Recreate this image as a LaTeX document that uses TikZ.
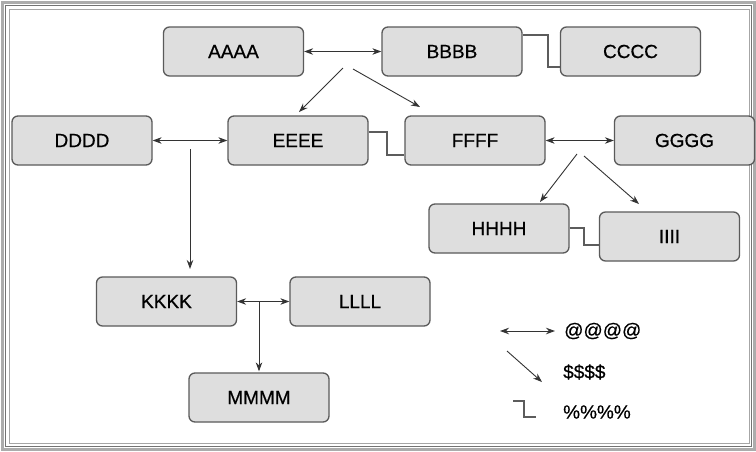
\documentclass[tikz,border=0pt]{standalone}
\usepackage{fontspec}
\setmainfont{Liberation Sans}
\newfontfamily\boxfont{Liberation Sans}[FakeBold=0.6]
\usetikzlibrary{arrows.meta}
\definecolor{boxfill}{HTML}{DEDEDE}
\definecolor{boxline}{HTML}{5A5A5A}
\definecolor{conn}{HTML}{333333}
\tikzset{
  box/.style={draw=boxline, fill=boxfill, line width=1.3pt, rounded corners=6pt,
    minimum width=140pt, minimum height=49pt, inner sep=0pt,
    font=\boxfont\fontsize{19}{21}\selectfont, text=black},
  conline/.style={draw=conn, line width=0.9pt},
  tip/.style={conline, -{Stealth[length=9pt,width=6.5pt]}},
  dtip/.style={conline, {Stealth[length=9pt,width=6.5pt]}-{Stealth[length=9pt,width=6.5pt]}},
  steplink/.style={draw=conn!80, line width=1.1pt},
  legtext/.style={anchor=west, inner sep=0pt, font=\boxfont\fontsize{19}{21}\selectfont, text=black}
}
\begin{document}
\begin{tikzpicture}[x=1pt,y=-1pt]
\useasboundingbox (0,0) rectangle (756,451);
\fill[white] (0,0) rectangle (756,451);
% frame
\draw[gray!65, line width=3pt] (2,2) rectangle (754.5,449);
\draw[gray!90!black, line width=1pt] (5.5,5.5) rectangle (751.5,446);
\draw[gray!70, line width=1pt] (9.5,9.5) rectangle (749,443);

% boxes
\node[box] (A) at (233.5,51.5) {AAAA};
\node[box] (B) at (452,51.5) {BBBB};
\node[box] (C) at (630.5,51.5) {CCCC};
\node[box] (D) at (82,140.5) {DDDD};
\node[box] (E) at (298,140.5) {EEEE};
\node[box] (F) at (475,140.5) {FFFF};
\node[box] (G) at (684.5,140.5) {GGGG};
\node[box] (H) at (499,228.5) {HHHH};
\node[box] (I) at (669.5,236.5) {IIII};
\node[box] (K) at (166.5,301.5) {KKKK};
\node[box] (L) at (360,301.5) {LLLL};
\node[box] (M) at (259,397.5) {MMMM};

% A <-> B and branches
\draw[dtip] (A.east) -- (B.west);
\coordinate (ab1) at (343,68);
\coordinate (ab2) at (353,69);
\coordinate (eTop) at (299,112);
\coordinate (fTop) at (420,107);
\draw[tip] (ab1) -- (eTop);
\draw[tip] (ab2) -- (fTop);

% B - C step
\draw[steplink] ([yshift=16.5pt]B.east) -| (548,67) -- ([yshift=-15.5pt]C.west);

% D <-> E and down to K
\draw[dtip] (D.east) -- (E.west);
\coordinate (de) at (190,149);
\coordinate (kTop) at (190,269);
\draw[tip] (de) -- (kTop);

% E - F step
\draw[steplink] ([yshift=8.5pt]E.east) -| (387,155) -- ([yshift=-14.5pt]F.west);

% F <-> G and branches
\draw[dtip] (F.east) -- (G.west);
\coordinate (fg1) at (577,154);
\coordinate (fg2) at (584,156);
\coordinate (hTop) at (540,202);
\coordinate (iTop) at (639,204);
\draw[tip] (fg1) -- (hTop);
\draw[tip] (fg2) -- (iTop);

% H - I step
\draw[steplink] ([yshift=0.5pt]H.east) -| (584,245) -- ([yshift=-8.5pt]I.west);

% K <-> L and down to M
\draw[dtip] (K.east) -- (L.west);
\coordinate (kl) at (259,301.5);
\draw[tip] (kl) -- ([yshift=1pt]M.north);

% legend
\coordinate (l1a) at (500,331);
\coordinate (l1b) at (555,331);
\draw[dtip] (l1a) -- (l1b);
\node[legtext] (t1) at (564,331) {@@@@};
\coordinate (l2a) at (507,351);
\coordinate (l2b) at (542,382);
\draw[tip] (l2a) -- (l2b);
\node[legtext] (t2) at (563,372) {\$\$\$\$};
\coordinate (l3a) at (513,401);
\coordinate (l3b) at (536,417);
\draw[steplink] (l3a) -- (524,401) |- (l3b);
\node[legtext] (t3) at (563,412) {\%\%\%\%};
\end{tikzpicture}
\end{document}
